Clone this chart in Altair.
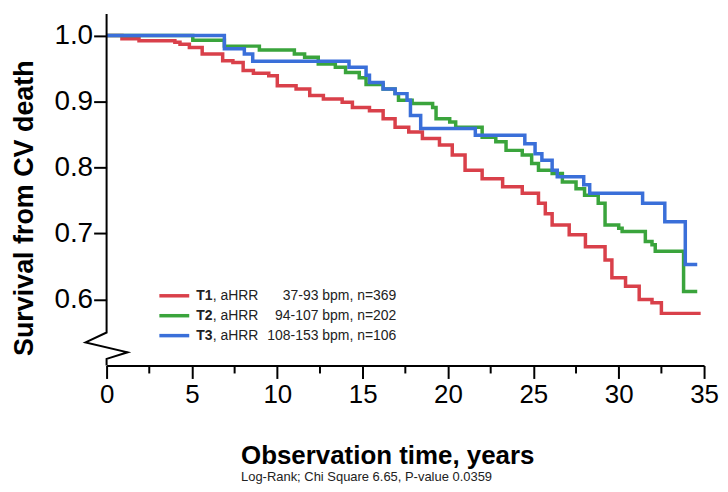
import altair as alt
import pandas as pd

# ---- data (time in years, survival probability) ----
t1_time = [0, 0.9, 1.9, 4.0, 4.3, 4.85, 5.6, 6.8, 7.4, 8.0, 8.6, 9.5, 10.0, 11.1, 11.9,
           12.7, 13.8, 14.4, 15.4, 16.2, 16.9, 17.7, 18.5, 19.5, 20.25, 21.0, 22.0, 23.2,
           24.35, 25.3, 25.7, 26.1, 27.1, 28.05, 29.2, 29.6, 30.4, 31.2, 31.95, 32.5, 34.8]
t1_surv = [1.0, 0.995, 0.992, 0.99, 0.987, 0.982, 0.972, 0.962, 0.959, 0.947, 0.943, 0.939,
           0.924, 0.919, 0.909, 0.904, 0.899, 0.891, 0.886, 0.874, 0.861, 0.854, 0.844,
           0.834, 0.819, 0.796, 0.783, 0.771, 0.761, 0.746, 0.73, 0.713, 0.698, 0.680,
           0.660, 0.633, 0.620, 0.600, 0.595, 0.579, 0.579]

t2_time = [0, 5.05, 6.9, 8.95, 11.0, 11.6, 12.4, 13.4, 14.0, 14.8, 15.2, 16.2, 16.9, 17.1,
           17.9, 19.1, 19.3, 20.1, 20.45, 22.0, 22.8, 23.4, 24.35, 24.9, 25.3, 26.1, 26.7,
           27.5, 28.0, 28.8, 29.2, 30.0, 30.2, 31.56, 31.95, 32.14, 33.8, 34.6]
t2_surv = [1.0, 0.993, 0.984, 0.978, 0.972, 0.967, 0.957, 0.952, 0.944, 0.936, 0.926, 0.919,
           0.912, 0.902, 0.897, 0.891, 0.874, 0.869, 0.861, 0.846, 0.839, 0.826, 0.819,
           0.806, 0.796, 0.791, 0.778, 0.768, 0.758, 0.746, 0.713, 0.708, 0.703, 0.688,
           0.683, 0.673, 0.612, 0.612]

t3_time = [0, 6.9, 8.07, 8.56, 14.2, 15.2, 15.4, 16.2, 16.9, 17.6, 17.8, 18.4, 21.6, 24.5,
           25.1, 25.5, 26.1, 26.4, 27.95, 28.3, 31.4, 32.7, 33.9, 34.6]
t3_surv = [1.0, 0.980, 0.972, 0.961, 0.952, 0.94, 0.929, 0.919, 0.912, 0.902, 0.879, 0.859,
           0.849, 0.836, 0.821, 0.811, 0.796, 0.786, 0.774, 0.761, 0.746, 0.718, 0.653, 0.653]

groups = ["T1", "T2", "T3"]
colors = ["#d9404a", "#3aa43c", "#3a6fd9"]
legend_range = ["37-93 bpm, n=369", "94-107 bpm, n=202", "108-153 bpm, n=106"]

x_ticks = [0, 5, 10, 15, 20, 25, 30, 35]
x_minor = [2.5, 7.5, 12.5, 17.5, 22.5, 27.5, 32.5]
y_ticks = [0.6, 0.7, 0.8, 0.9, 1.0]

# y-axis line with break symbol (data coordinates)
axis_x = [0, 0, -1.23, 1.23, 0, 0]
axis_y = [1.0327, 0.550, 0.535, 0.520, 0.510, 0.5]

x_title = "Observation time, years"
y_title = "Survival from CV death"
subtitle = "Log-Rank; Chi Square 6.65, P-value 0.0359"

FONT = "Liberation Sans"
W, H = 600, 353

rows = []
for g, ts, ss in [("T1", t1_time, t1_surv), ("T2", t2_time, t2_surv), ("T3", t3_time, t3_surv)]:
    for t, s in zip(ts, ss):
        rows.append({"group": g, "time": t, "surv": s})
df = pd.DataFrame(rows)

xscale = alt.Scale(domain=[0, 35], nice=False, zero=False)
yscale = alt.Scale(domain=[0.5, 1.0327], nice=False, zero=False)

xaxis = alt.Axis(values=x_ticks, format="d", tickSize=13, tickWidth=2,
                 tickColor="black", domainColor="black", domainWidth=2,
                 labelFontSize=26, labelFont=FONT, labelColor="black",
                 labelPadding=3, grid=False, title=None, labelFlush=False)
yaxis = alt.Axis(values=y_ticks, format=".1f", domain=False, tickSize=13,
                 tickWidth=2, tickColor="black", labelFontSize=28,
                 labelFont=FONT, labelColor="black", labelPadding=1,
                 grid=False, title=None)

curves = alt.Chart(df).mark_line(interpolate="step-after", strokeWidth=3.5).encode(
    x=alt.X("time:Q", scale=xscale, axis=xaxis),
    y=alt.Y("surv:Q", scale=yscale, axis=yaxis),
    color=alt.Color("group:N", scale=alt.Scale(domain=groups, range=colors), legend=None),
)

axis_df = pd.DataFrame({"time": axis_x, "surv": axis_y, "i": list(range(len(axis_x)))})
yaxis_line = alt.Chart(axis_df).mark_line(color="black", strokeWidth=2).encode(
    x=alt.X("time:Q", scale=xscale, axis=xaxis),
    y=alt.Y("surv:Q", scale=yscale, axis=None),
    order="i:Q",
)

minor_df = pd.DataFrame({"time": x_minor})
minor_ticks = alt.Chart(minor_df).mark_rule(color="black", strokeWidth=2).encode(
    x=alt.X("time:Q", scale=xscale, axis=xaxis),
    y=alt.value(H),
    y2=alt.value(H + 8),
)

# legend
rowscale = alt.Scale(domain=[0, 2], range=[283, 323])
leg_df = pd.DataFrame({"group": groups, "color": colors, "rng": legend_range,
                       "row": [0, 1, 2]})
leg_base = alt.Chart(leg_df)
leg_lines = leg_base.mark_rule(strokeWidth=3.5).encode(
    x=alt.value(53), x2=alt.value(83),
    y=alt.Y("row:Q", scale=rowscale, axis=None),
    color=alt.Color("color:N", scale=None),
)
leg_t = leg_base.mark_text(align="left", baseline="middle", fontSize=14, font=FONT,
                           fontWeight="bold", color="#222").encode(
    x=alt.value(90),
    y=alt.Y("row:Q", scale=rowscale, axis=None),
    text="group:N",
)
leg_a = leg_base.mark_text(align="left", baseline="middle", fontSize=14, font=FONT,
                           color="#222").encode(
    x=alt.value(106.5),
    y=alt.Y("row:Q", scale=rowscale, axis=None),
    text=alt.value(", aHRR"),
)
leg_r = leg_base.mark_text(align="right", baseline="middle", fontSize=14, font=FONT,
                           color="#222").encode(
    x=alt.value(291),
    y=alt.Y("row:Q", scale=rowscale, axis=None),
    text="rng:N",
)

one = pd.DataFrame({"a": [0]})
ytitle = alt.Chart(one).mark_text(angle=270, align="center", baseline="alphabetic",
                                  fontSize=27, fontWeight="bold", font=FONT,
                                  color="black").encode(
    x=alt.value(-74), y=alt.value(195), text=alt.value(y_title))
xtitle = alt.Chart(one).mark_text(align="left", baseline="alphabetic", fontSize=26,
                                  fontWeight="bold", font=FONT, color="black").encode(
    x=alt.value(135), y=alt.value(452), text=alt.value(x_title))
sub = alt.Chart(one).mark_text(align="left", baseline="alphabetic", fontSize=13,
                               font=FONT, color="#222").encode(
    x=alt.value(135), y=alt.value(469), text=alt.value(subtitle))

chart = alt.layer(
    curves, yaxis_line, minor_ticks, leg_lines, leg_t, leg_a, leg_r, ytitle, xtitle, sub
).resolve_scale(y="independent").properties(
    width=W, height=H,
    autosize=alt.AutoSizeParams(type="none"),
    padding={"left": 99, "top": 5, "right": 16, "bottom": 120},
).configure_view(stroke=None)

chart.save("out.html", embed_options={"renderer": "svg", "actions": False})
